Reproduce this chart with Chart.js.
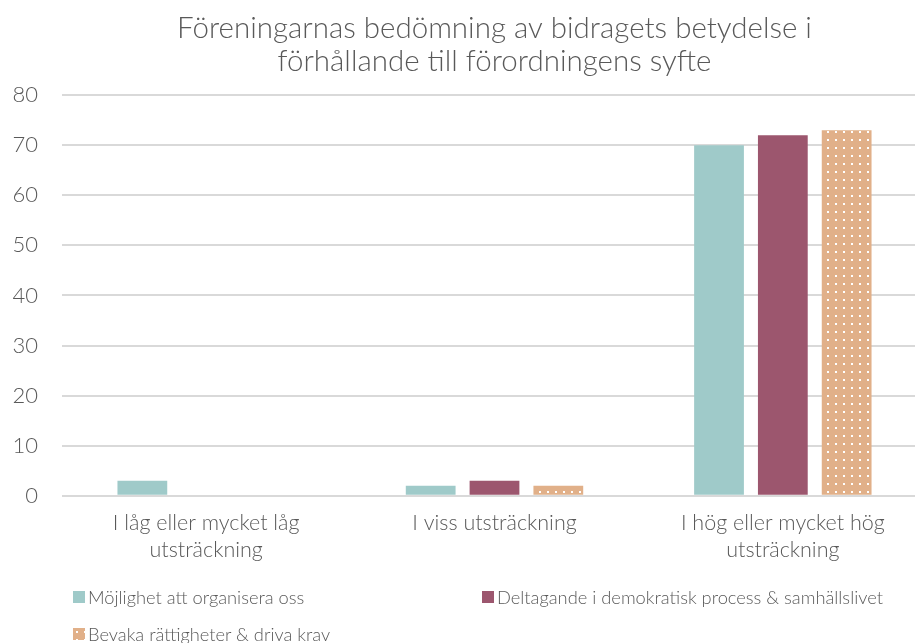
<!DOCTYPE html>
<html>
<head>
<meta charset="utf-8">
<script src="https://cdn.jsdelivr.net/npm/chart.js@4/dist/chart.umd.min.js"></script>
<style>
html,body{margin:0;padding:0;background:#fff;overflow:hidden;}
#wrap{position:relative;width:930px;height:643px;}
#legend{position:absolute;left:0;top:0;width:930px;height:643px;pointer-events:none;font-family:"Lato","Open Sans",sans-serif;font-weight:300;font-size:18.3px;color:#595959;}
.li{position:absolute;display:flex;align-items:center;white-space:nowrap;}
.sw{width:12px;height:12px;margin-right:3px;}
</style>
</head>
<body>
<div id="wrap"><canvas id="c"></canvas><div id="legend"></div></div>
<script>
const categories = [["I låg eller mycket låg","utsträckning"],"I viss utsträckning",["I hög eller mycket hög","utsträckning"]];
const seriesNames = ["Möjlighet att organisera oss","Deltagande i demokratisk process & samhällslivet","Bevaka rättigheter & driva krav"];
const valuesOrganisera = [3, 2, 70];
const valuesDeltagande = [0, 3, 72];
const valuesBevaka = [0, 2, 73];
const yTicks = [0,10,20,30,40,50,60,70,80];

const COLORS = ["#9fcac9","#9c566e","#e1b089"];
const FONT = "'Lato','Open Sans',sans-serif";
const GREY = "#595959";

function dotPattern(){
  const p = document.createElement('canvas');
  p.width = 8; p.height = 8;
  const g = p.getContext('2d');
  g.fillStyle = COLORS[2]; g.fillRect(0,0,8,8);
  g.fillStyle = "#ffffff"; g.fillRect(3,3,2,2);
  return p;
}
const patCanvas = dotPattern();
const ctx = document.getElementById('c').getContext('2d');
const pattern = ctx.createPattern(patCanvas,'repeat');

new Chart(ctx,{
  type:'bar',
  data:{
    labels:categories,
    datasets:[
      {label:seriesNames[0],data:valuesOrganisera,backgroundColor:COLORS[0]},
      {label:seriesNames[1],data:valuesDeltagande,backgroundColor:COLORS[1]},
      {label:seriesNames[2],data:valuesBevaka,backgroundColor:pattern}
    ]
  },
  options:{
    responsive:true,maintainAspectRatio:false,animation:false,
    datasets:{bar:{categoryPercentage:0.664,barPercentage:0.78}},
    layout:{padding:{left:10,right:3,top:12,bottom:66}},
    plugins:{
      legend:{display:false},
      tooltip:{enabled:false},
      title:{display:true,fullSize:false,text:["Föreningarnas bedömning av bidragets betydelse i","förhållande till förordningens syfte"],
        color:GREY,font:{family:FONT,size:29.5,weight:'300',lineHeight:1.12},padding:{top:0,bottom:17}}
    },
    scales:{
      x:{grid:{display:false,drawTicks:false},border:{display:false},
        ticks:{color:GREY,font:{family:FONT,size:21.5,weight:'300',lineHeight:1.26},padding:13.5,maxRotation:0,autoSkip:false}},
      y:{min:0,max:80,afterBuildTicks:(s)=>{s.ticks=yTicks.map(v=>({value:v}));},
        afterFit:(s)=>{s.width=52;},
        grid:{color:"#d9d9d9",lineWidth:2,drawTicks:false},border:{display:false},
        ticks:{color:GREY,font:{family:FONT,size:22,weight:'300'},padding:24}}
    }
  }
});

const leg = document.getElementById('legend');
const pos = [[73,597],[482,597],[73,634]];
seriesNames.forEach((n,i)=>{
  const d = document.createElement('div');
  d.className='li';
  d.style.left=pos[i][0]+'px';
  d.style.top=(pos[i][1]-12)+'px';
  d.style.height='24px';
  const sw = document.createElement('span');
  sw.className='sw';
  if(i===2){ sw.style.background = COLORS[2]+' url('+patCanvas.toDataURL()+') repeat'; }
  else sw.style.background = COLORS[i];
  d.appendChild(sw);
  const t = document.createElement('span'); t.textContent=n; d.appendChild(t);
  leg.appendChild(d);
});
</script>
</body>
</html>
